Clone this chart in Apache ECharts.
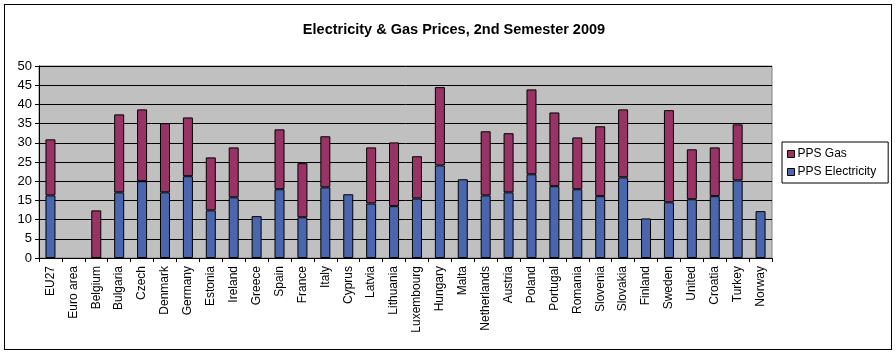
<!DOCTYPE html>
<html>
<head>
<meta charset="utf-8">
<script src="https://cdn.jsdelivr.net/npm/echarts@6/dist/echarts.min.js"></script>
<style>
  html, body { margin: 0; padding: 0; background: #fff; }
  #frame { position: absolute; left: 4px; top: 4px; width: 886px; height: 344px; border: 1px solid #000; }
  #chart { width: 896px; height: 353px; }
</style>
</head>
<body>
<div id="frame"></div>
<div id="chart" style="position:absolute;left:0;top:0;"></div>
<script>
// categories
const countries = ['EU27', 'Euro area', 'Belgium', 'Bulgaria', 'Czech', 'Denmark', 'Germany', 'Estonia',
  'Ireland', 'Greece', 'Spain', 'France', 'Italy', 'Cyprus', 'Latvia', 'Lithuania', 'Luxembourg',
  'Hungary', 'Malta', 'Netherlands', 'Austria', 'Poland', 'Portugal', 'Romania', 'Slovenia',
  'Slovakia', 'Finland', 'Sweden', 'United', 'Croatia', 'Turkey', 'Norway'];

// PPS Electricity (bottom part of stack)
const electricity = [16.3, null, 0, 17.1, 20.0, 17.1, 21.3, 12.4,
  15.8, 10.9, 17.9, 10.6, 18.4, 16.6, 14.2, 13.5, 15.5,
  24.1, 20.5, 16.3, 17.1, 21.8, 18.7, 17.9, 16.1,
  21.0, 10.3, 14.5, 15.3, 16.1, 20.2, 12.2];

// PPS Gas (top part of stack)
const gas = [14.6, null, 12.4, 20.3, 18.7, 18.0, 15.3, 13.8,
  13.0, null, 15.6, 14.1, 13.3, null, 14.6, 16.6, 11.0,
  20.4, null, 16.7, 15.4, 22.1, 19.2, 13.5, 18.2,
  17.7, null, 24.0, 13.0, 12.7, 14.6, null];

const yTicks = [0, 5, 10, 15, 20, 25, 30, 35, 40, 45, 50];

const elecColor = '#4a66ae';
const gasColor = '#993366';

let myChart = echarts.init(document.getElementById('chart'));

const option = {
  backgroundColor: 'transparent',
  animation: false,
  title: {
    text: 'Electricity & Gas Prices, 2nd Semester 2009',
    left: 449,
    textAlign: 'center',
    top: 17,
    textStyle: { fontFamily: 'Liberation Sans', fontSize: 14.5, fontWeight: 'bold', color: '#000' }
  },
  legend: {
    data: ['PPS Gas', 'PPS Electricity'],
    orient: 'vertical',
    left: 782,
    top: 142,
    padding: [6, 12, 5, 5],
    itemGap: 6,
    itemWidth: 7,
    itemHeight: 7,
    borderColor: '#000',
    borderWidth: 1,
    icon: 'rect',
    textStyle: { fontFamily: 'Liberation Sans', fontSize: 12, color: '#000', padding: [0, 0, 0, -2] },
    itemStyle: { borderColor: '#000', borderWidth: 1 }
  },
  grid: {
    left: 39,
    right: 124,
    top: 66,
    bottom: 95,
    show: true,
    backgroundColor: '#c0c0c0',
    borderColor: '#808080',
    borderWidth: 1
  },
  xAxis: {
    type: 'category',
    data: countries,
    boundaryGap: true,
    axisLine: { lineStyle: { color: '#000', width: 1 } },
    axisTick: { show: true, length: 4, alignWithLabel: false, lineStyle: { color: '#000' } },
    axisLabel: {
      interval: 0,
      rotate: 90,
      margin: 8,
      fontFamily: 'Liberation Sans',
      fontSize: 12,
      color: '#000'
    }
  },
  yAxis: {
    type: 'value',
    min: 0,
    max: 50,
    interval: 5,
    axisLine: { show: true, lineStyle: { color: '#000', width: 1 } },
    axisTick: { show: true, length: 4, lineStyle: { color: '#000' } },
    splitLine: { show: true, lineStyle: { color: '#000', width: 1 } },
    axisLabel: {
      margin: 7,
      fontFamily: 'Liberation Sans',
      fontSize: 13,
      color: '#000',
      formatter: function (v) { return yTicks.indexOf(v) >= 0 ? String(v) : ''; }
    }
  },
  series: [
    {
      name: 'PPS Electricity',
      type: 'bar',
      stack: 'pps',
      barWidth: 10,
      data: electricity,
      itemStyle: { color: elecColor, borderColor: '#000', borderWidth: 1 }
    },
    {
      name: 'PPS Gas',
      type: 'bar',
      stack: 'pps',
      barWidth: 10,
      data: gas,
      itemStyle: { color: gasColor, borderColor: '#000', borderWidth: 1 }
    }
  ]
};

myChart.setOption(option, true);
</script>
</body>
</html>
